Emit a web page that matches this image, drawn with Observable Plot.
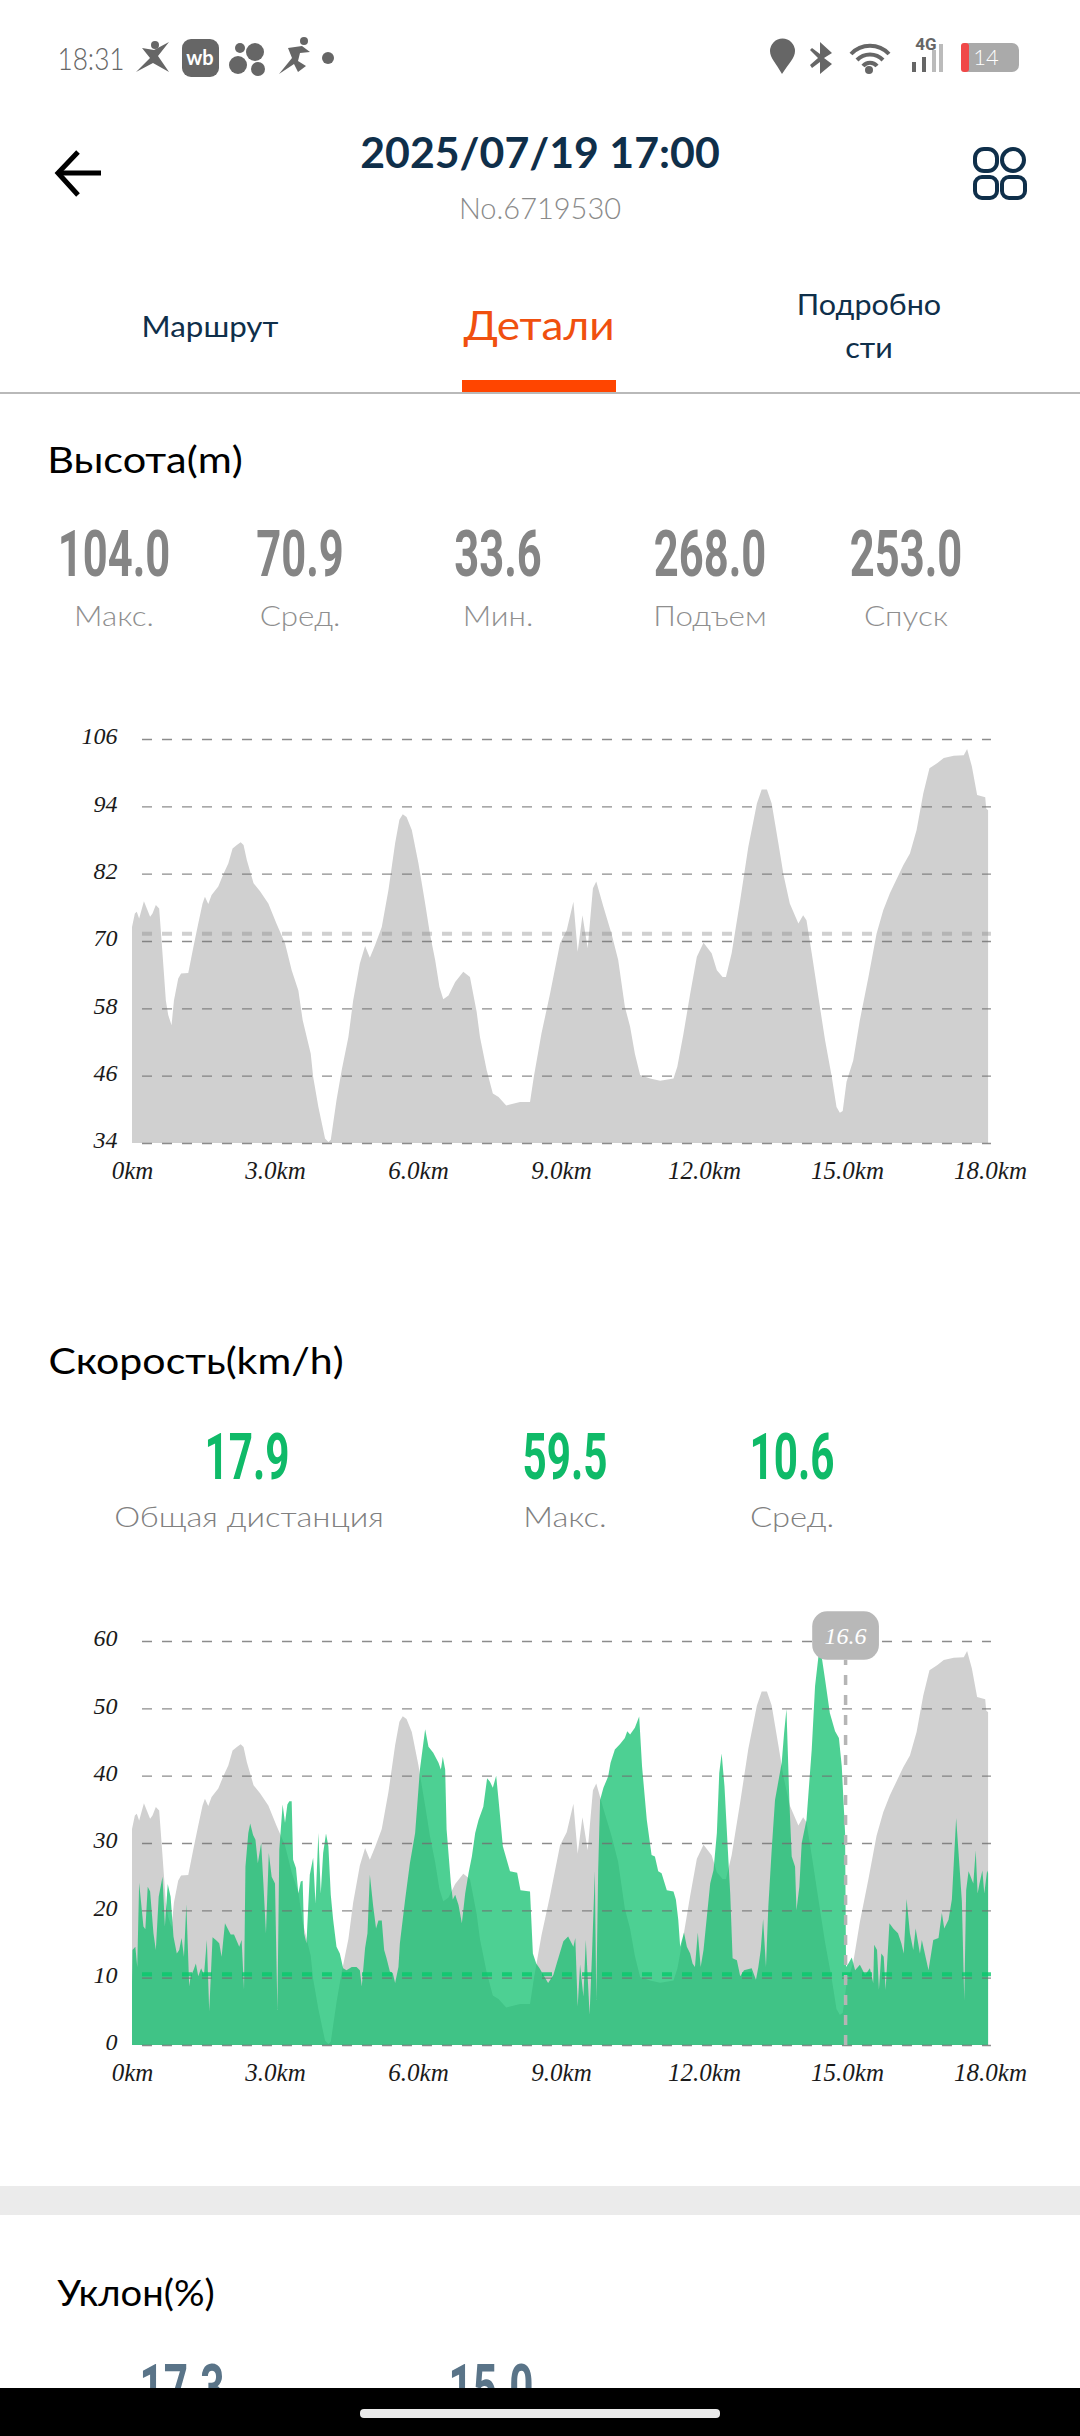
<!DOCTYPE html>
<html lang="ru">
<head>
<meta charset="utf-8">
<title>Детали</title>
<script src="https://cdn.jsdelivr.net/npm/d3@7"></script>
<script src="https://cdn.jsdelivr.net/npm/@observablehq/plot@0.6"></script>
<style>
html,body{margin:0;padding:0;background:#fff;}
#page{position:relative;width:1080px;height:2436px;overflow:hidden;background:#fff;}
.t{position:absolute;white-space:nowrap;line-height:1;}
.c{position:absolute;left:0;}
.c svg{overflow:visible;display:block;}
.b{position:absolute;}
</style>
</head>
<body>
<div id="page"></div>
<script>
// ---------- data ----------
const elevationTrace = [
[0,72.5],[.06,74.9],[.1,75.2],[.15,74],[.25,77.1],[.38,74.3],[.43,74.9],[.5,76.4],[.57,75.8],[.62,70.1],[.67,64.2],[.71,59.4],[.76,56.8],[.83,55],[.88,59.4],[.97,63.3],[1.03,64.2],[1.18,64.3],[1.29,69],[1.39,73.1],[1.48,76.7],[1.53,77.9],[1.6,76.6],[1.67,78.2],[1.81,79.7],[1.92,82],[2.02,83.8],[2.11,86.5],[2.2,87.1],[2.28,87.6],[2.34,87.1],[2.41,84.4],[2.55,80.3],[2.69,78.8],[2.86,76.7],[3.03,73.1],[3.21,69.6],[3.35,64.8],[3.49,61.2],[3.58,55.9],[3.75,49.9],[3.8,45.8],[3.91,40.4],[4.05,34.8],[4.12,34.2],[4.17,34.6],[4.29,41.6],[4.4,47],[4.54,52.9],[4.64,59.4],[4.78,66],[4.89,69.1],[4.99,67],[5.1,69.3],[5.24,72.5],[5.38,79.1],[5.52,87.4],[5.61,91.6],[5.68,92.6],[5.76,92.1],[5.87,89.8],[6.01,83.8],[6.15,76.7],[6.25,71.3],[6.36,66.6],[6.45,61.8],[6.53,59.6],[6.64,60.3],[6.78,62.7],[6.95,64.5],[7.09,63.6],[7.23,57.4],[7.3,52.9],[7.44,47],[7.57,42.8],[7.69,42.2],[7.85,40.7],[8.14,41.3],[8.35,41.3],[8.43,45.8],[8.59,53.5],[8.77,60.6],[8.98,69.6],[9.12,71.9],[9.26,77],[9.35,68.1],[9.45,74.6],[9.56,68.7],[9.67,79.4],[9.74,80.6],[9.89,76.1],[10.06,71.3],[10.2,66.6],[10.34,58.3],[10.45,54.7],[10.55,49.9],[10.66,46.1],[10.87,45.5],[11.08,45.1],[11.36,45.5],[11.44,47.6],[11.57,53.5],[11.71,60.6],[11.85,67.2],[11.99,69.7],[12.16,67.8],[12.27,64.8],[12.39,63.6],[12.46,63.6],[12.58,67.8],[12.76,77.3],[12.93,86.8],[13.11,94.5],[13.21,97],[13.32,97],[13.42,94.5],[13.56,87.4],[13.67,81.7],[13.8,76.7],[13.98,73.1],[14.08,74.6],[14.15,73.7],[14.26,67.8],[14.4,60],[14.54,52.3],[14.68,45.8],[14.78,40.4],[14.85,39.4],[14.91,39.7],[14.99,44.9],[15.13,48.7],[15.27,55.9],[15.45,63.6],[15.62,71.3],[15.76,75.5],[15.9,78.5],[16.18,83.5],[16.32,85.6],[16.46,89.8],[16.6,96.3],[16.73,100.8],[16.89,101.7],[17.03,102.6],[17.24,103],[17.45,103.1],[17.52,104.2],[17.62,101.1],[17.73,96],[17.9,95.6],[17.92,93.6],[17.96,93.3]
];
const speedTrace = [
[0,9.2],[.01,14.1],[.07,14.6],[.11,11.6],[.15,24.1],[.24,17.6],[.28,17.2],[.33,23.5],[.38,22.8],[.45,16.6],[.5,14.1],[.56,22],[.64,25],[.69,17.6],[.75,23.9],[.81,22],[.87,16.1],[.94,13.6],[.99,14.1],[1.04,15.9],[1.09,13.1],[1.14,20.9],[1.2,8.7],[1.23,10.2],[1.29,11.1],[1.34,12.1],[1.39,10.2],[1.45,11.4],[1.51,10.4],[1.57,15.6],[1.62,5],[1.69,16],[1.76,15.6],[1.83,15.1],[1.88,13.1],[1.95,18.1],[2.07,16.4],[2.14,16.4],[2.25,14.6],[2.3,15.6],[2.35,8.2],[2.38,26.5],[2.44,31.5],[2.48,32.9],[2.54,31.2],[2.59,30.5],[2.64,27],[2.71,30],[2.76,23.5],[2.81,16.6],[2.87,28.5],[2.93,25],[3,24],[3.05,5.2],[3.09,29],[3.16,35.7],[3.21,33],[3.26,35.7],[3.3,36.2],[3.35,36.2],[3.38,27.5],[3.44,26.3],[3.49,22.5],[3.54,24.3],[3.58,24.4],[3.61,16.6],[3.66,15.1],[3.73,25.3],[3.8,27.8],[3.85,21],[3.91,31.5],[3.96,22.5],[4.01,28.5],[4.07,31.4],[4.12,29.5],[4.17,22.3],[4.22,18.6],[4.29,14.6],[4.36,13.6],[4.43,11.4],[4.5,11.1],[4.61,11.6],[4.71,11.6],[4.78,11.1],[4.82,8.7],[4.89,14.4],[4.94,16.6],[4.99,25.3],[5.06,20.6],[5.12,17.3],[5.17,18.5],[5.24,18.5],[5.29,14.1],[5.34,12.9],[5.41,10.9],[5.47,10.7],[5.52,9.2],[5.59,11.6],[5.62,15.1],[5.73,21.6],[5.83,27],[5.94,31.5],[6.04,40.9],[6.15,46.9],[6.22,44.3],[6.32,43.4],[6.43,41.9],[6.48,40.9],[6.52,42.8],[6.57,40.9],[6.6,32],[6.69,24],[6.73,21.6],[6.78,22.3],[6.85,20.8],[6.92,18.1],[6.99,22.5],[7.06,25.5],[7.13,28],[7.2,31.5],[7.27,33.4],[7.37,35.4],[7.45,39.6],[7.51,39.1],[7.57,38.2],[7.64,40],[7.69,36.4],[7.78,29.5],[7.93,25.8],[8.08,25.6],[8.15,23],[8.35,22.8],[8.41,13.6],[8.48,12.1],[8.55,11.4],[8.63,10.4],[8.73,9.2],[8.84,10.4],[8.91,12.1],[9.05,15.4],[9.15,16.1],[9.26,14.6],[9.3,15.9],[9.35,5.7],[9.4,11.9],[9.47,7.2],[9.52,15.6],[9.6,4.5],[9.65,13.4],[9.71,25.8],[9.74,6.7],[9.78,26],[9.82,36.4],[9.89,38.2],[9.99,39.9],[10.04,41.9],[10.13,43.9],[10.24,44.7],[10.34,45.6],[10.39,46.6],[10.45,46.1],[10.55,47.1],[10.64,48.8],[10.7,41.4],[10.8,33.4],[10.9,28.2],[10.97,28],[11.04,25.8],[11.11,25.5],[11.22,23],[11.36,22.8],[11.41,21.6],[11.46,18.6],[11.5,14.6],[11.58,16.7],[11.64,14.6],[11.71,13.6],[11.76,12.1],[11.81,11.6],[11.87,16.7],[11.93,11.6],[11.99,14.1],[12.13,24],[12.2,26],[12.27,31.5],[12.32,40.4],[12.37,43.3],[12.43,38.4],[12.5,29],[12.55,22.5],[12.6,12.9],[12.69,12.6],[12.76,10.2],[12.84,11.1],[13,11.4],[13.09,9.7],[13.14,11.6],[13.19,14.1],[13.24,18.7],[13.3,11.6],[13.35,20.6],[13.42,29],[13.49,36.4],[13.63,41.9],[13.68,46.3],[13.73,49.9],[13.79,36.4],[13.84,28],[13.91,26.5],[13.94,20],[14,23.5],[14.05,30],[14.15,33.4],[14.26,43.9],[14.33,53.3],[14.43,59.5],[14.54,54.3],[14.64,49.3],[14.75,46.6],[14.83,45.6],[14.89,41.4],[14.96,31.5],[14.98,11.6],[15.03,12.1],[15.1,13],[15.17,11.1],[15.27,11.9],[15.38,10.4],[15.48,11.4],[15.55,9.2],[15.57,14.9],[15.63,14.1],[15.67,8.2],[15.72,13.6],[15.77,13.1],[15.81,8.2],[15.89,18.1],[15.97,17.3],[16.07,16.6],[16.14,15.1],[16.19,13.6],[16.25,21.7],[16.32,16.6],[16.39,14.1],[16.44,17.3],[16.53,13.6],[16.57,15.6],[16.71,11.1],[16.81,15.6],[16.92,15.9],[16.99,19.6],[17.04,17.3],[17.13,18.6],[17.2,21.6],[17.29,33.7],[17.36,26.5],[17.41,21.3],[17.46,6.7],[17.5,23],[17.55,25.8],[17.65,24],[17.7,28.9],[17.74,22.5],[17.78,24],[17.84,25.9],[17.88,22.5],[17.94,25.9],[17.96,25.5]
];
const kmTicks = [0,3,6,9,12,15,18];
const elevTicks = [34,46,58,70,82,94,106];
const speedTicks = [0,10,20,30,40,50,60];
const elevAvgLine = 71.4;
const speedAvgLine = 10.6;
const cursorKm = 14.96;
const cursorLabel = "16.6";
const elevMin = 34, elevMax = 106, speedMax = 60;

const elevStats = [["104.0","Макс."],["70.9","Сред."],["33.6","Мин."],["268.0","Подъем"],["253.0","Спуск"]];
const speedStats = [["17.9","Общая дистанция"],["59.5","Макс."],["10.6","Сред."]];

// ---------- helpers ----------
const page = document.getElementById("page");
const HAND = "Lato, 'Noto Sans', sans-serif";
const NUM = "Roboto, 'Liberation Sans', sans-serif";
const TICK = "'Liberation Serif', serif";
function txt(s,cx,cy,size,color,o={}){
  const d=document.createElement("div");
  d.className="t"; d.textContent=s;
  d.style.cssText+=`left:${cx}px;top:${cy}px;font-size:${size}px;color:${color};font-family:${o.family||HAND};font-weight:${o.weight||300};transform:translate(-50%,-50%) scaleX(${o.sx||.82});`;
  page.appendChild(d);
}
function box(x,y,w,h,bg,r=0){
  const d=document.createElement("div");
  d.className="b";
  d.style.cssText=`left:${x}px;top:${y}px;width:${w}px;height:${h}px;background:${bg};border-radius:${r}px;`;
  page.appendChild(d);
}
const kmFmt = d => d===0 ? "0km" : d.toFixed(1)+"km";
const GRID = {stroke:"#6f6f6f",strokeOpacity:.8,strokeWidth:1.3,strokeDasharray:"10,10"};
const X1 = .21, X2 = 18.02;

function place(svg,top){
  const w=document.createElement("div");
  w.className="c"; w.style.top=top+"px";
  w.appendChild(svg); page.appendChild(w);
}
const base = {
  width:1080,height:494,marginLeft:132,marginRight:90,marginTop:40,marginBottom:50,
  x:{domain:[0,18]},
  style:{background:"transparent",fontFamily:TICK,fontStyle:"italic",fontSize:"23px",color:"#1a1a1a"}
};
const axes = ticks => [
  Plot.axisX({ticks:kmTicks,tickSize:0,tickPadding:18,tickFormat:kmFmt,label:null,fontSize:25}),
  Plot.axisY({ticks,tickSize:0,tickPadding:15,label:null,fontSize:24,dy:-3})
];

// ---------- elevation chart ----------
place(Plot.plot({...base,
  y:{domain:[elevMin,elevMax]},
  marks:[
    Plot.areaY(elevationTrace,{x:d=>d[0],y1:elevMin,y2:d=>d[1],fill:"#d0d0d0"}),
    Plot.ruleY(elevTicks,{x1:X1,x2:X2,...GRID}),
    Plot.ruleY([elevAvgLine],{x1:X1,x2:X2,stroke:"#8a8a8a",strokeOpacity:.4,strokeWidth:4,strokeDasharray:"10,10"}),
    ...axes(elevTicks)
  ]}),699);

// ---------- speed chart ----------
const scaleElev = m => (m-elevMin)/(elevMax-elevMin)*speedMax;
place(Plot.plot({...base,
  y:{domain:[0,speedMax]},
  marks:[
    Plot.areaY(elevationTrace,{x:d=>d[0],y1:0,y2:d=>scaleElev(d[1]),fill:"#d0d0d0"}),
    Plot.areaY(speedTrace,{x:d=>d[0],y1:0,y2:d=>d[1],fill:"#08be6a",fillOpacity:.72}),
    Plot.ruleY(speedTicks,{x1:X1,x2:X2,...GRID}),
    Plot.ruleY([speedAvgLine],{x1:X1,x2:X2,stroke:"#08c86c",strokeOpacity:.8,strokeWidth:4,strokeDasharray:"10,10"}),
    Plot.ruleX([cursorKm],{y1:0,y2:57.2,stroke:"#b5b5b5",strokeWidth:3.5,strokeDasharray:"10,10"}),
    Plot.rect([cursorLabel],{x1:14.27,x2:15.67,y1:57.2,y2:64.4,fill:"#b8b8b8",rx:15}),
    Plot.text([cursorLabel],{x:cursorKm,y:60.8,text:d=>d,fill:"#fff",fontSize:24}),
    ...axes(speedTicks)
  ]}),1601);

// ---------- page chrome ----------
txt("18:31",91,58,32,"#666",{sx:.82});
txt("2025/07/19 17:00",540,152,42,"#0f2f4a",{weight:700,sx:1.02});
txt("No.6719530",540,207,29,"#8a8a8a",{sx:1.0});
txt("Маршрут",210,326,28,"#0f2f4a",{weight:400,sx:1.12});
txt("Детали",539,325,40,"#f0500f",{weight:400,sx:1.1});
txt("Подробно",869,304,28,"#0f2f4a",{weight:400,sx:1.09});
txt("сти",869,347,28,"#0f2f4a",{weight:400,sx:1.09});
box(0,392,1080,1.5,"#b9b9b9");
box(462,380,154,12,"#ff4500");

txt("Высота(m)",145,459,36,"#000",{weight:400,sx:1.15});
const elevX=[114,300,498,710,906];
elevStats.forEach(([v,l],i)=>{
  txt(v,elevX[i],555,64,"#858585",{family:NUM,weight:700,sx:.68});
  txt(l,elevX[i],615,28,"#8f8f8f",{sx:1.12});
});

txt("Скорость(km/h)",196,1360,36,"#000",{weight:400,sx:1.14});
const speedX=[247,565,792], speedLX=[249,565,792];
speedStats.forEach(([v,l],i)=>{
  txt(v,speedX[i],1458,64,"#0fba68",{family:NUM,weight:700,sx:.66});
  txt(l,speedLX[i],1516,28,"#808080",{sx:1.17});
});

box(0,2186,1080,29,"#ebebeb");
txt("Уклон(%)",136,2292,36,"#000",{weight:400,sx:1.06});
txt("17.3",182,2389,64,"#5a7488",{family:NUM,weight:700,sx:.66});
txt("15.0",491,2389,64,"#5a7488",{family:NUM,weight:700,sx:.66});
box(0,2388,1080,48,"#000");
box(360,2409,360,9,"#eaeaea",4);

// interface icons
const icons=document.createElementNS("http://www.w3.org/2000/svg","svg");
icons.setAttribute("width","1080");icons.setAttribute("height","220");
icons.style.cssText="position:absolute;left:0;top:0;";
icons.innerHTML=`
<g fill="#666">
 <path d="M136 72 L150 58 L142 48 L154 50 L169 42 L158 56 L169 72 L153 63 Z"/><circle cx="155" cy="45" r="4"/>
 <rect x="182" y="39" width="37" height="38" rx="9"/>
 <circle cx="238" cy="65" r="9"/><circle cx="255" cy="52" r="9"/><circle cx="258" cy="69" r="7"/><circle cx="240" cy="48" r="5"/>
 <path d="M279 74 L292 58 L288 48 L302 46 L310 52 L300 53 L298 61 L306 66 L298 72 L294 64 Z"/><circle cx="304" cy="41" r="4"/>
 <circle cx="328" cy="58" r="6"/>
 <path d="M782 74 C776 63 770 58 770 51 A12.5 12.5 0 0 1 795 51 C795 58 789 63 782 74 Z"/>
 <path d="M820 42 L832 53 L824 58 L832 64 L820 74 L820 62 L812 68 L810 65 L818 58 L810 50 L812 48 L820 54 Z"/>
 <circle cx="869" cy="70" r="4"/>
 <rect x="962" y="43" width="57" height="29" rx="7" fill="#aaa"/>
 <rect x="912" y="62" width="4" height="10"/><rect x="922" y="57" width="4" height="15"/><rect x="932" y="50" width="4" height="22" fill="#bbb"/><rect x="939" y="44" width="4" height="28" fill="#bbb"/>
</g>
<text x="200" y="65" font-size="20" font-family="Lato" font-weight="700" fill="#fff" text-anchor="middle">wb</text>
<g fill="none" stroke="#666" stroke-width="4">
 <path d="M851 54 A26 26 0 0 1 889 54"/><path d="M857 60 A18 18 0 0 1 883 60"/><path d="M863 66 A9 9 0 0 1 877 66"/>
</g>
<text x="926" y="50" font-size="17" font-family="Roboto" font-weight="700" fill="#666" text-anchor="middle">4G</text>
<rect x="961" y="43" width="8" height="29" rx="3" fill="#f04848"/>
<text x="986" y="65" font-size="22" font-family="Lato" font-weight="300" fill="#fff" text-anchor="middle">14</text>
<g fill="none" stroke="#000" stroke-width="5">
 <path d="M101 173 L60 173"/><path d="M78 152 L58 173 L78 195"/>
</g>
<g fill="none" stroke="#0f2f4a" stroke-width="4">
 <rect x="975" y="149" width="22" height="22" rx="9"/><circle cx="1013" cy="160" r="11"/>
 <rect x="975" y="177" width="22" height="21" rx="7"/><rect x="1002" y="177" width="23" height="21" rx="7"/>
</g>`;
page.appendChild(icons);
</script>
</body>
</html>
